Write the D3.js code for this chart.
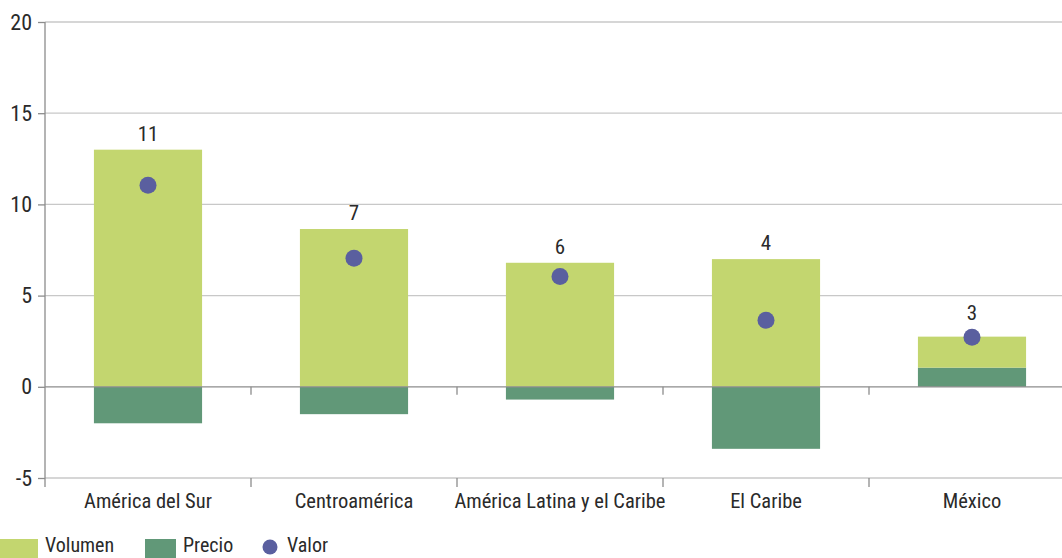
<!DOCTYPE html>
<html><head><meta charset="utf-8">
<script src="https://cdn.jsdelivr.net/npm/d3@7/dist/d3.min.js"></script>
<style>
body{margin:0;background:#fff;}
svg text{font-family:"Liberation Sans Narrow","Roboto Condensed","DejaVu Sans Condensed",Roboto,sans-serif;fill:#2a2a2a;}
</style></head>
<body><svg id="c" width="1062" height="558"></svg>
<script>
const categories = ["América del Sur","Centroamérica","América Latina y el Caribe","El Caribe","México"];
const volumen = [13.0, 8.65, 6.8, 7.0, 1.7];
const precio = [-2.0, -1.5, -0.7, -3.4, 1.05];
const valor = [11.05, 7.05, 6.05, 3.65, 2.72];
const valorLabels = ["11","7","6","4","3"];
const yTicks = [-5,0,5,10,15,20];

const colors = {volumen:"#c3d66f", precio:"#619878", valor:"#5a5f9f"};
const svg = d3.select("#c");
const left = 45, bandW = 206;
const x = d3.scaleBand().domain(categories).range([left, left + bandW*categories.length]).paddingInner(0.475).paddingOuter(0.2375);
const y = d3.scaleLinear().domain([-5,20]).range([478,22]);

// gridlines
svg.append("g").selectAll("line").data(yTicks.filter(d=>d!==0)).join("line")
  .attr("x1",left).attr("x2",1062).attr("y1",d=>y(d)).attr("y2",d=>y(d))
  .attr("stroke","#c8c8c8").attr("stroke-width",1.3);

// stacked bars
const stacks = categories.map((c,i)=>{
  const p = precio[i], v = volumen[i];
  const segs = [];
  if (p >= 0) {
    segs.push({c, key:"precio", y0:0, y1:p});
    segs.push({c, key:"volumen", y0:p, y1:p+v});
  } else {
    segs.push({c, key:"precio", y0:p, y1:0});
    segs.push({c, key:"volumen", y0:0, y1:v});
  }
  return segs;
}).flat();
svg.append("g").selectAll("rect").data(stacks).join("rect")
  .attr("x",d=>x(d.c)).attr("width",x.bandwidth())
  .attr("y",d=>y(d.y1)).attr("height",d=>y(d.y0)-y(d.y1))
  .attr("fill",d=>colors[d.key]);

// zero axis
svg.append("line").attr("x1",left).attr("x2",1062).attr("y1",y(0)).attr("y2",y(0))
  .attr("stroke","#8c8c8c").attr("stroke-width",1.3);

// y axis
const yAxis = d3.axisLeft(y).tickValues(yTicks).tickSize(7).tickPadding(6).tickFormat(d=>String(d));
const ya = svg.append("g").attr("transform",`translate(${left},0)`).call(yAxis);
ya.select(".domain").remove();
ya.selectAll(".tick line").attr("stroke","#8c8c8c").attr("stroke-width",1.3);
ya.selectAll("text").attr("font-size",22).attr("fill","#2a2a2a").attr("font-family","'Liberation Sans Narrow',sans-serif");
svg.append("line").attr("x1",left).attr("x2",left).attr("y1",y(20)).attr("y2",487)
  .attr("stroke","#8c8c8c").attr("stroke-width",1.3);

// category separator ticks
const seps = d3.range(1, categories.length);
svg.append("g").selectAll("line").data(seps).join("line")
  .attr("x1",d=>left+d*bandW).attr("x2",d=>left+d*bandW).attr("y1",y(0)).attr("y2",y(0)+8)
  .attr("stroke","#8c8c8c").attr("stroke-width",1.3);
svg.append("g").selectAll("line").data(seps).join("line")
  .attr("x1",d=>left+d*bandW).attr("x2",d=>left+d*bandW).attr("y1",y(-5)).attr("y2",y(-5)+9)
  .attr("stroke","#8c8c8c").attr("stroke-width",1.3);

// category labels
svg.append("g").selectAll("text").data(categories).join("text")
  .attr("x",d=>x(d)+x.bandwidth()/2).attr("y",508).attr("text-anchor","middle")
  .attr("font-size",20.5).text(d=>d);

// valor dots
svg.append("g").selectAll("circle").data(categories).join("circle")
  .attr("cx",d=>x(d)+x.bandwidth()/2).attr("cy",(d,i)=>y(valor[i])).attr("r",8.5)
  .attr("fill",colors.valor);

// value labels
svg.append("g").selectAll("text").data(categories).join("text")
  .attr("x",d=>x(d)+x.bandwidth()/2)
  .attr("y",(d,i)=>{
    const top = Math.max(volumen[i] + Math.max(precio[i],0), 0);
    return Math.min(y(top)-9, y(valor[i])-17);
  })
  .attr("text-anchor","middle").attr("font-size",21).text((d,i)=>valorLabels[i]);

// legend
const leg = svg.append("g");
const items = [{k:"volumen",t:"Volumen",x:0},{k:"precio",t:"Precio",x:145},{k:"valor",t:"Valor",x:262}];
items.forEach(it=>{
  if (it.k==="valor") {
    leg.append("circle").attr("cx",it.x+8).attr("cy",547).attr("r",7.5).attr("fill",colors.valor);
    leg.append("text").attr("x",it.x+25).attr("y",552).attr("font-size",20).text(it.t);
  } else {
    leg.append("rect").attr("x",it.x).attr("y",539).attr("width",it.k==="volumen"?38:31).attr("height",19).attr("fill",colors[it.k]);
    leg.append("text").attr("x",it.x+(it.k==="volumen"?45:38)).attr("y",552).attr("font-size",20).text(it.t);
  }
});
</script></body></html>
